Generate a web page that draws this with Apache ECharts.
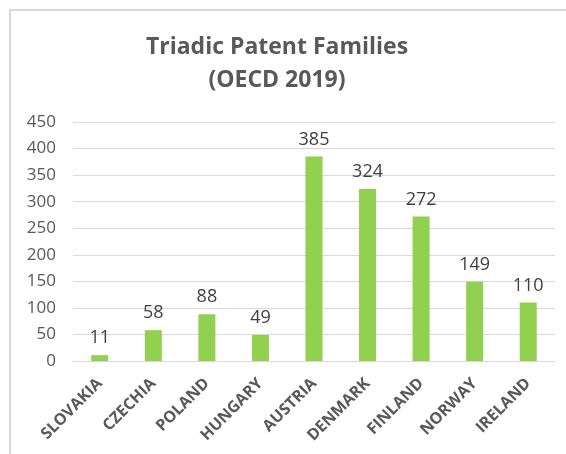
<!DOCTYPE html>
<html>
<head>
<meta charset="utf-8">
<script src="https://cdn.jsdelivr.net/npm/echarts@6/dist/echarts.min.js"></script>
<style>
  html, body { margin: 0; padding: 0; background: #fff; }
  #main { width: 566px; height: 454px; }
</style>
</head>
<body>
<div id="main"></div>
<script>
const countries = ['SLOVAKIA', 'CZECHIA', 'POLAND', 'HUNGARY', 'AUSTRIA', 'DENMARK', 'FINLAND', 'NORWAY', 'IRELAND'];
const patentFamilies = [11, 58, 88, 49, 385, 324, 272, 149, 110];
const titleLines = ['Triadic Patent Families', '(OECD 2019)'];

const chart = echarts.init(document.getElementById('main'));

const option = {
  backgroundColor: '#fff',
  animation: false,
  title: {
    text: titleLines.join('\n'),
    left: 272,
    textAlign: 'center',
    top: 26,
    textStyle: {
      fontFamily: 'Open Sans',
      fontWeight: 'bold',
      fontSize: 23,
      lineHeight: 33,
      color: '#595959',
    },
  },
  graphic: [{
    type: 'rect',
    shape: { x: 10, y: 10, width: 700, height: 700 },
    style: { fill: 'none', stroke: '#d9d9d9', lineWidth: 2 },
    silent: true,
  }],
  grid: {
    left: 73,
    right: 11,
    top: 122,
    bottom: 93,
  },
  xAxis: {
    type: 'category',
    data: countries,
    axisLine: { lineStyle: { color: '#d9d9d9', width: 1 } },
    axisTick: { show: false },
    axisLabel: {
      rotate: 45,
      interval: 0,
      margin: 20,
      color: '#595959',
      fontFamily: 'Open Sans',
      fontWeight: 'bold',
      fontSize: 16,
    },
  },
  yAxis: {
    type: 'value',
    min: 0,
    max: 450,
    interval: 50,
    axisLine: { show: false },
    axisTick: { show: false },
    splitLine: { lineStyle: { color: '#d9d9d9', width: 1 } },
    axisLabel: {
      margin: 17,
      color: '#595959',
      fontFamily: 'Open Sans',
      fontSize: 17,
    },
  },
  series: [{
    type: 'bar',
    data: patentFamilies,
    barWidth: 17,
    itemStyle: { color: '#92d050' },
    label: {
      show: true,
      position: 'top',
      distance: 8,
      color: '#404040',
      fontFamily: 'Open Sans',
      fontSize: 18,
    },
  }],
};

chart.setOption(option);
</script>
</body>
</html>
